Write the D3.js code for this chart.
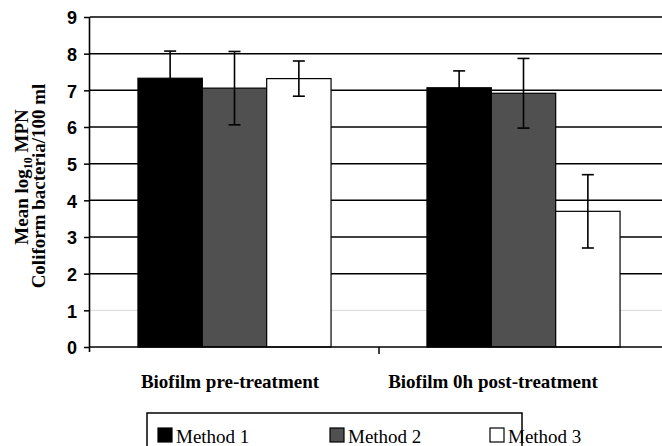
<!DOCTYPE html>
<html>
<head>
<meta charset="utf-8">
<script src="https://cdn.jsdelivr.net/npm/d3@7"></script>
<style>
  body { margin: 0; background: #fff; }
  .tick-label { font-family: "Liberation Sans", Arial, sans-serif; font-weight: bold; font-size: 18px; }
  .serif { font-family: "Liberation Serif", "Times New Roman", serif; }
</style>
</head>
<body>
<div class="chart"></div>
<script>
const categories = ["Biofilm pre-treatment", "Biofilm 0h post-treatment"];
const methods = ["Method 1", "Method 2", "Method 3"];

// mean log10 MPN per category, one array per method
const method1Means = [7.33, 7.07];
const method2Means = [7.06, 6.92];
const method3Means = [7.32, 3.70];

// half-length of the error bars
const method1Errors = [0.74, 0.46];
const method2Errors = [1.00, 0.95];
const method3Errors = [0.48, 1.00];

const yTicks = [0, 1, 2, 3, 4, 5, 6, 7, 8, 9];

const width = 662;
const height = 446;

const plotLeft = 90;
const plotRight = 668;
const plotTop = 17;
const plotBottom = 347;

const meansByMethod = [method1Means, method2Means, method3Means];
const errorsByMethod = [method1Errors, method2Errors, method3Errors];

const fills = d3.scaleOrdinal()
    .domain(methods)
    .range(["#000000", "#505050", "#ffffff"]);

// flatten into one row per bar
const bars = [];
categories.forEach(function(c, ci) {
  methods.forEach(function(m, mi) {
    bars.push({ category: c, method: m, value: meansByMethod[mi][ci], err: errorsByMethod[mi][ci] });
  });
});

const svg = d3.select(".chart")
    .append("svg")
    .attr("width", width)
    .attr("height", height);

const x0 = d3.scaleBand()
    .domain(categories)
    .range([plotLeft, plotRight])
    .padding(0);

const x1 = d3.scaleBand()
    .domain(methods)
    .range([0, x0.bandwidth()])
    .paddingInner(0)
    .paddingOuter(0.745);

const y = d3.scaleLinear()
    .domain([0, 9])
    .range([plotBottom, plotTop]);

// horizontal gridlines (the one at 1 is almost lost in the scan)
svg.append("g")
    .selectAll("line")
    .data(yTicks.filter(d => d > 0))
    .enter()
    .append("line")
    .attr("x1", plotLeft)
    .attr("x2", plotRight)
    .attr("y1", d => y(d))
    .attr("y2", d => y(d))
    .style("stroke", d => d === 1 ? "#d8d8d8" : "#000")
    .style("stroke-width", d => d === 1 ? 1 : 1.5);

// bars
svg.append("g")
    .selectAll("rect")
    .data(bars)
    .enter()
    .append("rect")
    .attr("x", d => x0(d.category) + x1(d.method))
    .attr("y", d => y(d.value))
    .attr("width", x1.bandwidth())
    .attr("height", d => y(0) - y(d.value))
    .style("fill", d => fills(d.method))
    .style("stroke", "#000")
    .style("stroke-width", 1.2);

// error bars
const capHalf = 6;
const errG = svg.append("g")
    .selectAll("g")
    .data(bars)
    .enter()
    .append("g")
    .attr("transform", d => "translate(" + (x0(d.category) + x1(d.method) + x1.bandwidth() / 2) + ",0)")
    .style("stroke", "#000")
    .style("stroke-width", 1.6);

errG.append("line")
    .attr("y1", d => y(d.value - d.err))
    .attr("y2", d => y(d.value + d.err));

errG.append("line")
    .attr("x1", -capHalf).attr("x2", capHalf)
    .attr("y1", d => y(d.value + d.err))
    .attr("y2", d => y(d.value + d.err));

errG.append("line")
    .attr("x1", -capHalf).attr("x2", capHalf)
    .attr("y1", d => y(d.value - d.err))
    .attr("y2", d => y(d.value - d.err));

// y axis
const yAxis = svg.append("g")
    .attr("transform", "translate(" + plotLeft + ",0)")
    .call(d3.axisLeft(y).tickValues(yTicks).tickSize(6).tickPadding(7).tickFormat(d3.format("d")));

yAxis.select(".domain")
    .attr("d", "M-0.5," + (plotTop) + "V" + (plotBottom + 5))
    .style("stroke", "#000")
    .style("stroke-width", 1.6);
yAxis.selectAll(".tick line").style("stroke", "#000").style("stroke-width", 1.5);
yAxis.selectAll(".tick text")
    .attr("class", "tick-label")
    .style("fill", "#000")
    .attr("dy", "0.38em");

// x axis
svg.append("line")
    .attr("x1", plotLeft)
    .attr("x2", plotRight)
    .attr("y1", y(0))
    .attr("y2", y(0))
    .style("stroke", "#000")
    .style("stroke-width", 1.6);

svg.append("line")
    .attr("x1", x0(categories[1]))
    .attr("x2", x0(categories[1]))
    .attr("y1", y(0))
    .attr("y2", y(0) + 7)
    .style("stroke", "#000")
    .style("stroke-width", 1.5);

// category labels
const catLabelX = [230, 493];
svg.selectAll(".cat-label")
    .data(categories)
    .enter()
    .append("text")
    .attr("class", "cat-label serif")
    .attr("x", (d, i) => catLabelX[i])
    .attr("y", 388)
    .attr("text-anchor", "middle")
    .style("font-weight", "bold")
    .style("font-size", "19px")
    .text(d => d);

// y axis title
const yTitle = svg.append("text")
    .attr("class", "serif")
    .attr("transform", "translate(28,177) rotate(-90)")
    .attr("text-anchor", "middle")
    .style("font-weight", "bold")
    .style("font-size", "19px");

yTitle.append("tspan").text("Mean log");
yTitle.append("tspan").attr("dy", 4).style("font-size", "12px").text("10");
yTitle.append("tspan").attr("dy", -4).text(" MPN");

svg.append("text")
    .attr("class", "serif")
    .attr("transform", "translate(45,186) rotate(-90)")
    .attr("text-anchor", "middle")
    .style("font-weight", "bold")
    .style("font-size", "19px")
    .text("Coliform bacteria/100 ml");

// legend
const legend = svg.append("g");
legend.append("rect")
    .attr("x", 147)
    .attr("y", 413)
    .attr("width", 375)
    .attr("height", 60)
    .style("fill", "none")
    .style("stroke", "#000")
    .style("stroke-width", 1.5);

const legendX = [158, 330, 490];
const items = legend.selectAll(".legend-item")
    .data(methods)
    .enter()
    .append("g")
    .attr("transform", (d, i) => "translate(" + legendX[i] + ",428)");

items.append("rect")
    .attr("width", 14)
    .attr("height", 14)
    .style("fill", d => fills(d))
    .style("stroke", "#000")
    .style("stroke-width", 1.2);

items.append("text")
    .attr("class", "serif")
    .attr("x", 18)
    .attr("y", 14.5)
    .style("font-size", "19px")
    .text(d => d);
</script>
</body>
</html>
